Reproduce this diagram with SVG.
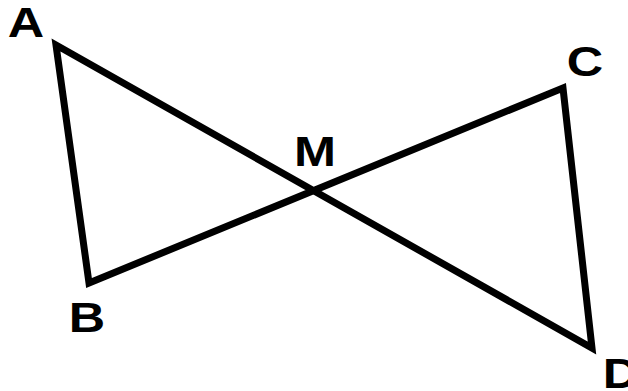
<svg xmlns="http://www.w3.org/2000/svg" width="628" height="391" viewBox="0 0 628 391">
<style>
.lbl{font-family:"Liberation Sans",Arial,sans-serif;font-weight:bold;font-size:42px;fill:#000;text-anchor:middle}
.edge{fill:none;stroke:#000;stroke-width:7;stroke-linejoin:miter;stroke-linecap:butt}
</style>
<rect width="628" height="391" fill="#fff"/>
<g id="connectors">
<path class="edge" d="M89,283 L56,45 L592,348 L563,88 Z"/>
</g>
<g id="A"><text class="lbl" transform="translate(26,37) scale(1.2,1)">A</text></g>
<g id="B"><text class="lbl" transform="translate(87,332) scale(1.2,1)">B</text></g>
<g id="M"><text class="lbl" transform="translate(315,166) scale(1.2,1)">M</text></g>
<g id="C"><text class="lbl" transform="translate(585,76) scale(1.2,1)">C</text></g>
<g id="D"><text class="lbl" transform="translate(621,388) scale(1.2,1)">D</text></g>
</svg>
